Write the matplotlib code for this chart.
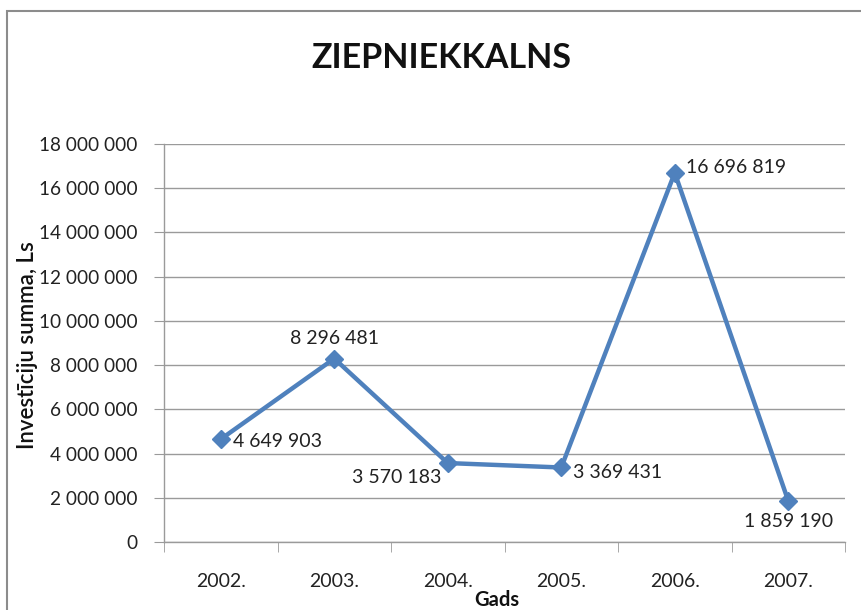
import matplotlib
matplotlib.use("Agg")
import matplotlib.pyplot as plt
from matplotlib.patches import Rectangle
from matplotlib.ticker import FuncFormatter, MultipleLocator

years = ["2002.", "2003.", "2004.", "2005.", "2006.", "2007."]
values = [4649903, 8296481, 3570183, 3369431, 16696819, 1859190]
label_text = ["4 649 903", "8 296 481", "3 570 183", "3 369 431", "16 696 819", "1 859 190"]
# label placement relative to the point: (dx px, dy px, ha, va)
label_pos = [(12, -2, "left", "center"), (0, 12, "center", "bottom"),
             (-6, -14, "right", "center"), (12, -5, "left", "center"),
             (11, 5, "left", "center"), (0, -12, "center", "top")]

FONT = ["Lato", "DejaVu Sans"]
plt.rcParams["font.family"] = FONT

W, H = 861, 610
fig = plt.figure(figsize=(W / 100, H / 100), dpi=100)

# outer chart frame (cropped at right and bottom)
fig.patches.append(Rectangle((7 / W, -0.1), 2.0, 1 - 11 / H + 0.1,
                             transform=fig.transFigure, fill=False,
                             edgecolor="#8c8c8c", linewidth=1.5))

left, right, bottom, top = 164 / W, 845 / W, 1 - 542 / H, 1 - 144 / H
ax = fig.add_axes([left, bottom, right - left, top - bottom])

grid_c = "#9a9a9a"
x = list(range(len(years)))
ax.plot(x, values, color="#4F81BD", linewidth=3.2, marker="D",
        markersize=9, markerfacecolor="#4F81BD", markeredgecolor="#4F81BD",
        zorder=3, clip_on=False)

ax.set_xlim(-0.5, len(years) - 0.5)
ax.set_ylim(0, 18000000)
ax.yaxis.set_major_locator(MultipleLocator(2000000))
ax.yaxis.set_major_formatter(FuncFormatter(lambda v, p: f"{int(v):,}".replace(",", " ")))
ax.set_xticks(x)
ax.set_xticklabels(years)
ax.set_xticks([i - 0.5 for i in range(len(years) + 1)], minor=True)
ax.tick_params(axis="x", which="major", length=0, pad=22, labelsize=14, colors="#222222")
ax.tick_params(axis="x", which="minor", length=7, color=grid_c, direction="out")
ax.tick_params(axis="y", length=7, color=grid_c, pad=12, labelsize=13.7, labelcolor="#222222")

ax.grid(axis="y", color=grid_c, linewidth=1)
ax.set_axisbelow(True)
for s in ["top", "right"]:
    ax.spines[s].set_visible(False)
for s in ["left", "bottom"]:
    ax.spines[s].set_color(grid_c)
    ax.spines[s].set_linewidth(1)

for xi, v, t, (dx, dy, ha, va) in zip(x, values, label_text, label_pos):
    ax.annotate(t, (xi, v), xytext=(dx * 0.72, dy * 0.72), textcoords="offset points",
                ha=ha, va=va, fontsize=14, color="#222222")

fig.text(441 / W, 1 - 58 / H, "ZIEPNIEKKALNS", ha="center", va="center",
         fontsize=24.5, fontweight="bold", color="#111111")
fig.text(28 / W, 1 - 345 / H, "Investīciju summa, Ls", ha="center", va="center",
         rotation=90, fontsize=16, fontweight="semibold", color="#111111")
fig.text(497 / W, 1 - 600 / H, "Gads", ha="center", va="center",
         fontsize=14.5, fontweight="bold", color="#111111")

fig.savefig("out.png", dpi=100, facecolor="white")
